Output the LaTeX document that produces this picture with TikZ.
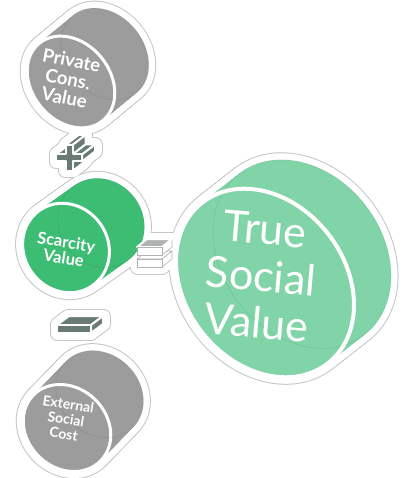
\documentclass[tikz,border=0pt]{standalone}
\usepackage{fontspec}
\setmainfont{Lato}
\definecolor{drumgray}{HTML}{9C9C9C}
\definecolor{scarcity}{HTML}{3DBC73}
\definecolor{truesocial}{HTML}{80D4A7}
\definecolor{signgray}{HTML}{6A7A75}
\definecolor{halogray}{HTML}{C6C6C6}
\definecolor{lidgray}{HTML}{AEB2B0}
\tikzset{
  haloline/.style={draw=halogray, line width=15pt, line join=round},
  halofill/.style={draw=white, line width=13pt, line join=round},
  rim/.style={draw=white, line width=3pt},
  ghost/.style={draw=black, draw opacity=.08, line width=.6pt},
  signface/.style={fill=signgray, draw=white, line width=2pt, line join=round},
  blockface/.style={fill=white, draw=black!30, line width=.6pt, line join=round},
  lbl/.style={text=white, align=center, inner sep=1pt},
}
% copies of a shape pushed back along (dx,dy)
\newcommand\sweep[4]{%
  \foreach \i in {0,...,16}{%
    \pgfmathsetmacro\sw{\i/16}%
    \path[#1, shift={(\sw*#3,\sw*(#4))}] #2;}}
\newcommand\drumshape[2]{(0,0) ellipse [x radius=#1, y radius=#2]}
\newcommand\plusshape{(-3.5,-13) -- (3.5,-13) -- (3.5,-3.5) -- (13,-3.5) -- (13,3.5) -- (3.5,3.5) -- (3.5,13) -- (-3.5,13) -- (-3.5,3.5) -- (-13,3.5) -- (-13,-3.5) -- (-3.5,-3.5) -- cycle}
\newcommand\minusshape{(-17,-4) rectangle (17,4)}
\newcommand\equalshape{(-12.5,-10) rectangle (12.5,10)}
% drum: colour, minor, major, depth, rim width (in a scope turned along the axis)
\newcommand\drumbody[5]{%
  \sweep{fill=#1}{\drumshape{#2}{#3}}{#4}{0}
  \path[rim, line width=#5, fill=#1] \drumshape{#2}{#3};
  \path[ghost] (#4,0) ellipse [x radius=#2, y radius=#3];}
% outlines of every solid, used twice for the sticker border
\newcommand\silhouettes[1]{%
  \begin{scope}[shift={(71,82)}, rotate=39.5]\sweep{#1}{\drumshape{39}{50}}{44}{0}\end{scope}
  \begin{scope}[shift={(66,248)}, rotate=35.5]\sweep{#1}{\drumshape{42}{46}}{43}{0}\end{scope}
  \begin{scope}[shift={(67,428)}, rotate=46]\sweep{#1}{\drumshape{40}{47}}{47}{0}\end{scope}
  \begin{scope}[shift={(265,283)}, rotate=38]\sweep{#1}{\drumshape{80}{102}}{47}{0}\end{scope}
  \begin{scope}[shift={(69,158)}]\sweep{#1}{\plusshape}{13}{-10}\end{scope}
  \begin{scope}[shift={(74,329)}]\sweep{#1}{\minusshape}{12}{-9}\end{scope}
  \begin{scope}[shift={(149.5,257)}]\sweep{#1}{\equalshape}{10}{-8}\end{scope}}

\begin{document}
\begin{tikzpicture}[x=1pt, y=-1pt]
\fill[white] (0,0) rectangle (404,478);
\useasboundingbox (0,0) rectangle (404,478);

% sticker border
\silhouettes{haloline}
\silhouettes{halofill}

% small drums
\begin{scope}[shift={(71,82)}, rotate=39.5]\drumbody{drumgray}{39}{50}{44}{3pt}\end{scope}
\begin{scope}[shift={(66,248)}, rotate=35.5]\drumbody{scarcity}{42}{46}{43}{3pt}\end{scope}
\begin{scope}[shift={(67,428)}, rotate=46]\drumbody{drumgray}{40}{47}{47}{3pt}\end{scope}

% plus
\begin{scope}[shift={(69,158)}]
  \path[signface] (3.5,3.5) -- (3.5,13) -- (16.5,3) -- (16.5,-6.5) -- cycle;
  \path[signface] (-13,-3.5) -- (-3.5,-3.5) -- (9.5,-13.5) -- (0,-13.5) -- cycle;
  \path[signface] (-3.5,-13) -- (3.5,-13) -- (16.5,-23) -- (9.5,-23) -- cycle;
  \path[signface] (3.5,-13) -- (3.5,-3.5) -- (16.5,-13.5) -- (16.5,-23) -- cycle;
  \path[signface] (3.5,-3.5) -- (13,-3.5) -- (26,-13.5) -- (16.5,-13.5) -- cycle;
  \path[signface] (13,-3.5) -- (13,3.5) -- (26,-6.5) -- (26,-13.5) -- cycle;
  \path[signface] \plusshape;
\end{scope}

% minus
\begin{scope}[shift={(74,329)}]
  \path[signface] (-17,-4) -- (17,-4) -- (29,-13) -- (-5,-13) -- cycle;
  \path[signface] (17,-4) -- (29,-13) -- (29,-5) -- (17,4) -- cycle;
  \path[signface] \minusshape;
\end{scope}

% equals
\begin{scope}[shift={(149.5,257)}]
  \path[blockface] (-12.5,2) -- (12.5,2) -- (22.5,-6) -- (-2.5,-6) -- cycle;
  \path[blockface] (12.5,2) -- (22.5,-6) -- (22.5,2) -- (12.5,10) -- cycle;
  \path[blockface] (12.5,-10) -- (22.5,-18) -- (22.5,-10) -- (12.5,-2) -- cycle;
  \path[signface, fill=lidgray] (-12.5,-10) -- (12.5,-10) -- (22.5,-18) -- (-2.5,-18) -- cycle;
  \path[blockface] (-12.5,-10) rectangle (12.5,-2);
  \path[blockface] (-12.5,2) rectangle (12.5,10);
\end{scope}

% big drum
\begin{scope}[shift={(265,283)}, rotate=38]\drumbody{truesocial}{80}{102}{47}{4pt}\end{scope}

% labels
\node[lbl, rotate=-11, font=\bfseries\fontsize{18.5}{19}\selectfont] (private) at (68,79) {Private\\Cons.\\Value};
\node[lbl, rotate=-9, font=\bfseries\fontsize{16.5}{16.5}\selectfont] (scarcity) at (65,250) {Scarcity\\Value};
\node[lbl, rotate=-9, font=\bfseries\fontsize{14}{15}\selectfont] (external) at (66,419) {External\\Social\\Cost};
\node[lbl, rotate=-5, font=\fontsize{43}{47}\selectfont] (truevalue) at (261,276) {True\\Social\\Value};
\end{tikzpicture}
\end{document}
